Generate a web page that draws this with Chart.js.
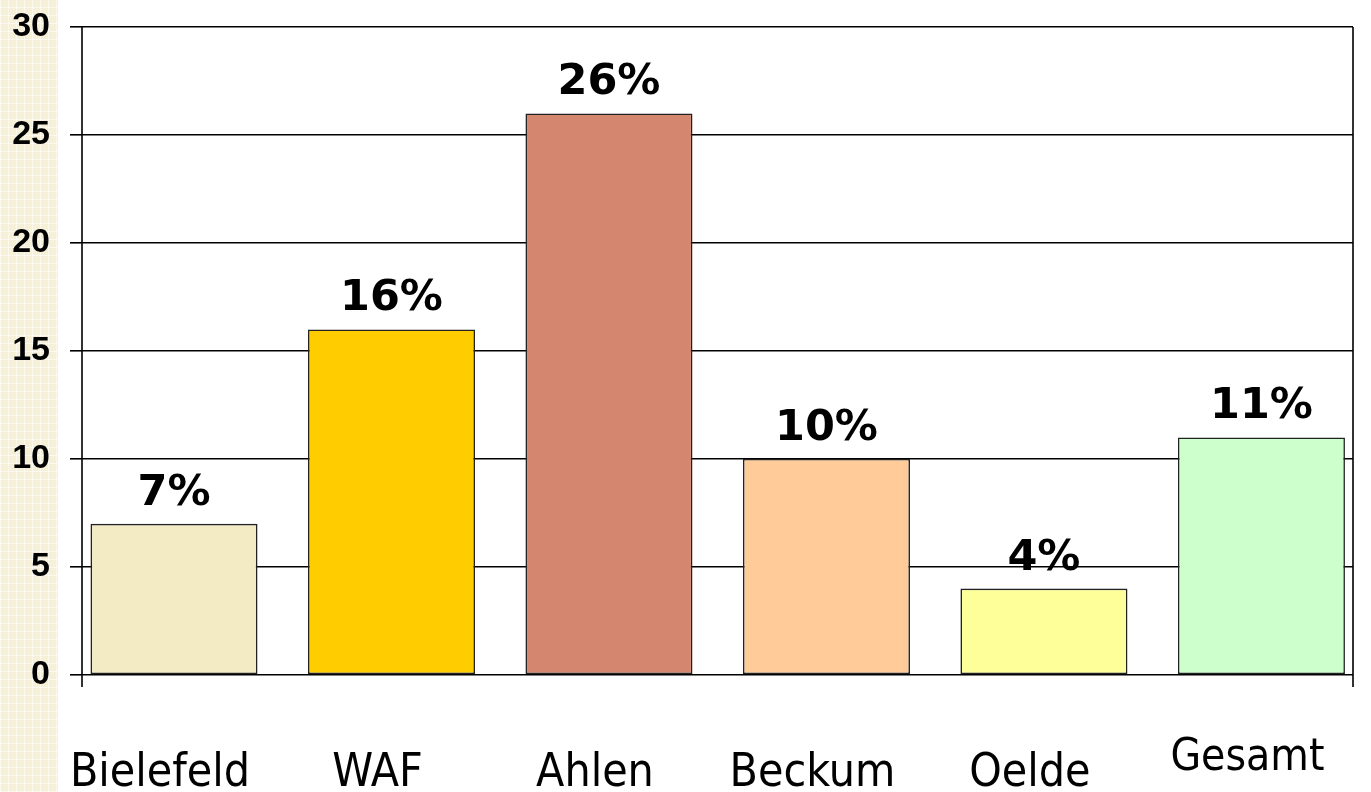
<!DOCTYPE html>
<html>
<head>
<meta charset="utf-8">
<script src="https://cdn.jsdelivr.net/npm/chart.js@4.4.0/dist/chart.umd.min.js"></script>
<style>
  html, body { margin: 0; padding: 0; background: #fff; }
  #strip {
    position: absolute; left: 0; top: 0; width: 58px; height: 792px;
    background-color: #f6f0d9;
    background-image:
      repeating-linear-gradient(0deg, rgba(255,255,255,0.55) 0 1px, transparent 1px 8px),
      repeating-linear-gradient(90deg, rgba(255,255,255,0.55) 0 1px, transparent 1px 8px);
  }
  #wrap { position: absolute; left: 0; top: 0; width: 1371px; height: 792px; }
</style>
</head>
<body>
<div id="strip"></div>
<div id="wrap"><canvas id="chart"></canvas></div>
<script>
const cities = ["Bielefeld", "WAF", "Ahlen", "Beckum", "Oelde", "Gesamt"];
const shares = [7, 16, 26, 10, 4, 11];
const barColors = ["#f3ebc3", "#ffcc00", "#d4876e", "#ffcc99", "#ffff99", "#ccffcc"];
const yTicks = [0, 5, 10, 15, 20, 25, 30];

// percent labels above the bars
const valueLabels = {
  id: "valueLabels",
  afterDatasetsDraw(chart) {
    const ctx = chart.ctx;
    const meta = chart.getDatasetMeta(0);
    ctx.save();
    ctx.font = "bold 43px 'DejaVu Sans', Verdana, sans-serif";
    ctx.fillStyle = "#000";
    ctx.textAlign = "center";
    ctx.textBaseline = "alphabetic";
    meta.data.forEach((bar, i) => {
      ctx.fillText(shares[i] + "%", bar.x, bar.y - 19);
    });
    ctx.restore();
  },
};

// left and right frame lines, running a bit below the zero line
const frameLines = {
  id: "frameLines",
  beforeDatasetsDraw(chart) {
    const { left, right, top, bottom } = chart.chartArea;
    const ctx = chart.ctx;
    ctx.save();
    ctx.strokeStyle = "#000";
    ctx.lineWidth = 1.6;
    ctx.beginPath();
    ctx.moveTo(left, top);
    ctx.lineTo(left, bottom + 12);
    ctx.moveTo(right, top);
    ctx.lineTo(right, bottom + 12);
    ctx.stroke();
    ctx.restore();
  },
};

const ctx = document.getElementById("chart").getContext("2d");

new Chart(ctx, {
  type: "bar",
  data: {
    datasets: [
      {
        data: shares.map((v, i) => ({ x: i, y: v })),
        backgroundColor: barColors,
        borderColor: "#222",
        borderWidth: 1.6,
        borderSkipped: false,
        barPercentage: 0.768,
        categoryPercentage: 1,
      },
    ],
  },
  options: {
    responsive: true,
    maintainAspectRatio: false,
    animation: false,
    layout: { padding: { top: 27, right: 18, bottom: 0, left: 0 } },
    plugins: {
      legend: { display: false },
      tooltip: { enabled: false },
    },
    scales: {
      x: {
        type: "linear",
        min: -0.423,
        max: 5.421,
        offset: false,
        grid: { display: false, offset: false },
        border: { display: false },
        afterBuildTicks: (scale) => {
          scale.ticks = cities.map((c, i) => ({ value: i }));
        },
        afterFit: (scale) => {
          scale.height = 117;
          scale.paddingLeft = 0;
          scale.paddingRight = 0;
        },
        ticks: {
          autoSkip: false,
          maxRotation: 0,
          padding: 63,
          labelOffset: -14,
          color: "#000",
          // "Gesamt" sits a little higher and smaller in the original
          font: (c) =>
            c.index === cities.length - 1
              ? { family: "'DejaVu Sans Condensed', 'DejaVu Sans', sans-serif", size: 44, lineHeight: 0.57 }
              : { family: "'DejaVu Sans Condensed', 'DejaVu Sans', sans-serif", size: 46, lineHeight: 1.2 },
          callback: (value) => cities[value],
        },
      },
      y: {
        min: 0,
        max: 30,
        afterBuildTicks: (scale) => {
          scale.ticks = yTicks.map((v) => ({ value: v }));
        },
        afterFit: (scale) => {
          scale.width = 82;
          scale.paddingTop = 0;
          scale.paddingBottom = 0;
        },
        grid: { color: "#000", lineWidth: 1.6, tickLength: 12, drawTicks: true },
        border: { display: false },
        ticks: {
          padding: 20,
          color: "#000",
          font: { family: "'Liberation Sans', Arial, sans-serif", size: 34, weight: "bold" },
        },
      },
    },
  },
  plugins: [frameLines, valueLabels],
});
</script>
</body>
</html>
